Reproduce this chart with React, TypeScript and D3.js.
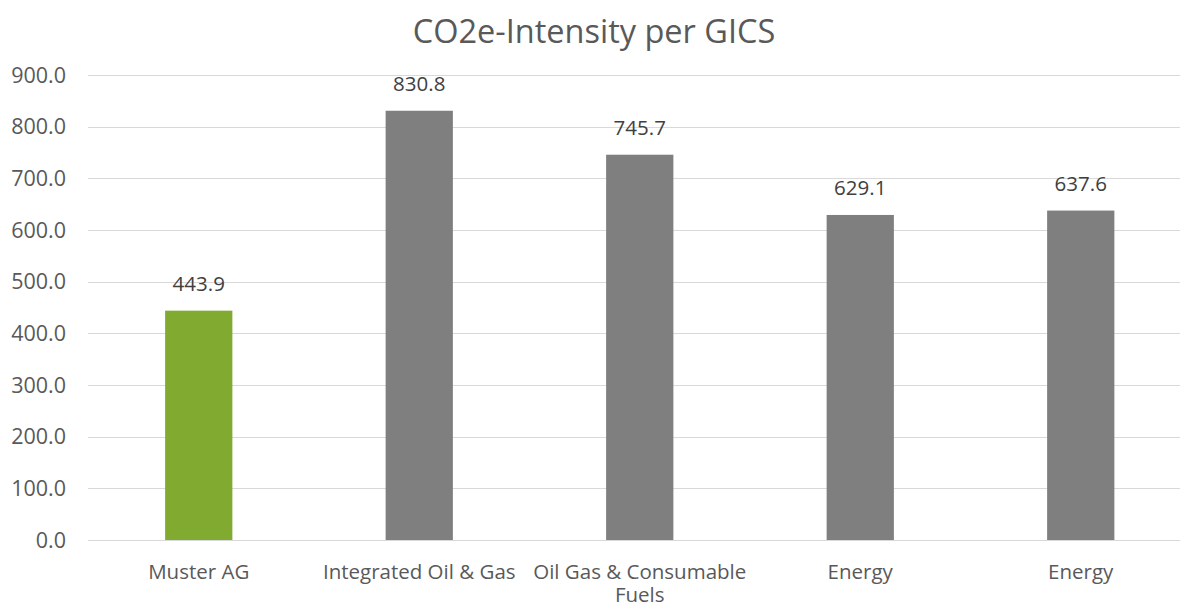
import React, { useRef, useEffect } from 'react';
import * as d3 from 'd3';

const categories = ['Muster AG', 'Integrated Oil & Gas', 'Oil Gas & Consumable Fuels', 'Energy', 'Energy 2'];
const labels: string[][] = [['Muster AG'], ['Integrated Oil & Gas'], ['Oil Gas & Consumable', 'Fuels'], ['Energy'], ['Energy']];
const values = [443.9, 830.8, 745.7, 629.1, 637.6];
const barColors = ['#80ab30', '#7f7f7f', '#7f7f7f', '#7f7f7f', '#7f7f7f'];
const yTicks = [0, 100, 200, 300, 400, 500, 600, 700, 800, 900];

const W = 1180;
const H = 608;
const FONT = '"Open Sans", "DejaVu Sans", sans-serif';

const App: React.FC = () => {
  const svgRef = useRef<SVGSVGElement | null>(null);

  useEffect(() => {
    if (!svgRef.current) return;
    const svg = d3.select(svgRef.current);
    svg.selectAll('*').remove();

    const x = d3.scaleBand<string>()
      .domain(categories)
      .range([88.5, 1191])
      .paddingInner(0.695)
      .paddingOuter(0.3475);

    const y = d3.scaleLinear().domain([0, 900]).range([540, 75]);

    // Title
    svg.append('text')
      .attr('x', 594)
      .attr('y', 43)
      .attr('text-anchor', 'middle')
      .attr('font-family', FONT)
      .attr('font-size', 32.5)
      .attr('fill', '#595959')
      .text('CO2e-Intensity per GICS');

    // Grid lines
    svg.append('g')
      .selectAll('line')
      .data(yTicks)
      .join('line')
      .attr('x1', 88)
      .attr('x2', W)
      .attr('y1', d => Math.round(y(d)) + 0.5)
      .attr('y2', d => Math.round(y(d)) + 0.5)
      .attr('stroke', '#d9d9d9')
      .attr('stroke-width', 1);

    // Y axis labels
    svg.append('g')
      .selectAll('text')
      .data(yTicks)
      .join('text')
      .attr('x', 66)
      .attr('y', d => y(d) + 7.5)
      .attr('text-anchor', 'end')
      .attr('font-family', FONT)
      .attr('font-size', 21.5)
      .attr('fill', '#595959')
      .text(d => d3.format('.1f')(d));

    // Bars
    svg.append('g')
      .selectAll('rect')
      .data(values)
      .join('rect')
      .attr('x', (_, i) => x(categories[i]) as number)
      .attr('width', x.bandwidth())
      .attr('y', d => y(d))
      .attr('height', d => y(0) - y(d))
      .attr('fill', (_, i) => barColors[i]);

    // Value labels
    svg.append('g')
      .selectAll('text')
      .data(values)
      .join('text')
      .attr('x', (_, i) => (x(categories[i]) as number) + x.bandwidth() / 2)
      .attr('y', d => y(d) - 20)
      .attr('text-anchor', 'middle')
      .attr('font-family', FONT)
      .attr('font-size', 20.5)
      .attr('fill', '#404040')
      .text(d => d3.format('.1f')(d));

    // Category labels (one text per line)
    const lines = labels.flatMap((ls, i) => ls.map((t, j) => ({ t, i, j })));
    svg.append('g')
      .selectAll('text')
      .data(lines)
      .join('text')
      .attr('x', d => (x(categories[d.i]) as number) + x.bandwidth() / 2)
      .attr('y', d => 579 + d.j * 23)
      .attr('text-anchor', 'middle')
      .attr('font-family', FONT)
      .attr('font-size', 20.5)
      .attr('fill', '#595959')
      .text(d => d.t);
  }, []);

  return (
    <svg
      ref={svgRef}
      width={W}
      height={H}
      style={{ position: 'absolute', left: 0, top: 0, background: '#fff' }}
    />
  );
};

export default App;
